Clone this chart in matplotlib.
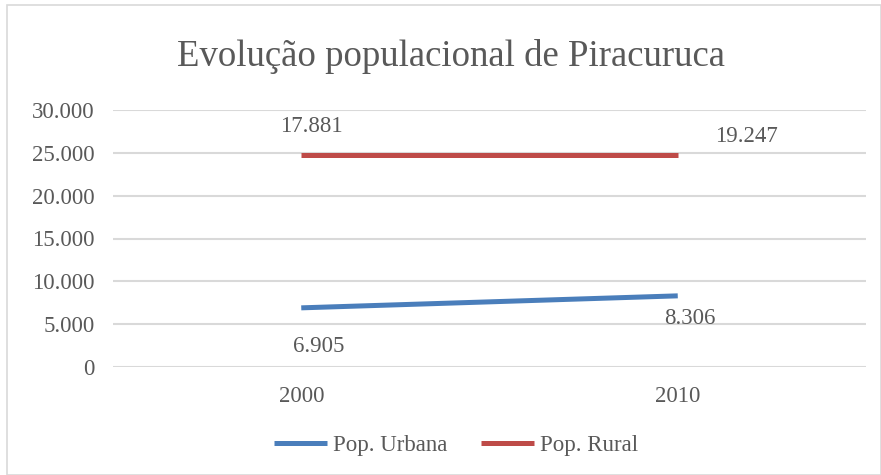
import matplotlib
matplotlib.use("Agg")
import matplotlib.pyplot as plt
from matplotlib.patches import Rectangle

years = ["2000", "2010"]
urbana = [6905, 8306]
rural_plotted = [24786, 24786]
urbana_labels = ["6.905", "8.306"]
rural_labels = ["17.881", "19.247"]
yticks = [0, 5000, 10000, 15000, 20000, 25000, 30000]
ytick_labels = ["0", "5.000", "10.000", "15.000", "20.000", "25.000", "30.000"]

plt.rcParams['font.family'] = ['Liberation Serif', 'DejaVu Serif']
txt = '#595959'
fs = 16.5

fig = plt.figure(figsize=(8.81, 4.75), dpi=100)
W, H = 881, 475
ax = fig.add_axes([113 / W, 1 - 367 / H, (866 - 113) / W, (367 - 110) / H])

x = list(range(len(years)))
ax.plot(x, urbana, color='#4a7ebb', lw=3.6, solid_capstyle='butt', label='Pop. Urbana')
ax.plot(x, rural_plotted, color='#be4b48', lw=3.6, solid_capstyle='butt', label='Pop. Rural')

ax.set_xlim(-0.5, 1.5)
ax.set_ylim(0, 30000)
ax.set_yticks(yticks)
ax.set_yticklabels(ytick_labels)
ax.set_xticks(x)
ax.set_xticklabels(years)
ax.grid(axis='y', color='#d9d9d9', lw=1.5)
ax.set_axisbelow(True)
for s in ax.spines.values():
    s.set_visible(False)
ax.tick_params(length=0, labelsize=fs, colors=txt)
ax.tick_params(axis='y', pad=13)
ax.tick_params(axis='x', pad=14)

off_r = [(10, 28), (69, 18)]
off_u = [(17, -39), (12, -23)]
for i in x:
    ax.annotate(rural_labels[i], (i, rural_plotted[i]), xytext=off_r[i], textcoords='offset pixels',
                ha='center', va='center', fontsize=fs, color=txt)
    ax.annotate(urbana_labels[i], (i, urbana[i]), xytext=off_u[i], textcoords='offset pixels',
                ha='center', va='center', fontsize=fs, color=txt)

fig.text(451 / W, 1 - 57 / H, "Evolução populacional de Piracuruca", ha='center', va='center',
         fontsize=26.5, color=txt)

leg = fig.legend(loc='center', bbox_to_anchor=(456 / W, 1 - 445 / H), ncol=2, frameon=False,
                 fontsize=fs, handlelength=2.3, columnspacing=1.5, handletextpad=0.25)
for t in leg.get_texts():
    t.set_color(txt)

fig.patches.append(Rectangle((7 / W, 0), 1 - 7 / W, 1 - 5 / H, transform=fig.transFigure,
                             fill=False, edgecolor='#d9d9d9', lw=1.2))

fig.savefig('out.png', dpi=100)
